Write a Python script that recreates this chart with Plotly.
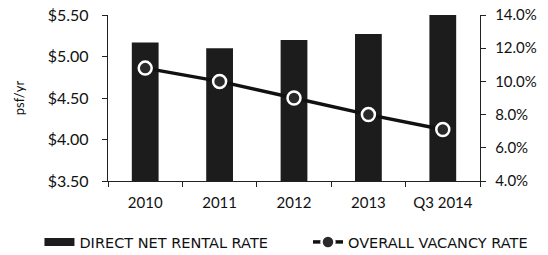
import plotly.graph_objects as go

categories = ["2010", "2011", "2012", "2013", "Q3 2014"]
rental_rate = [5.17, 5.10, 5.20, 5.27, 5.50]
vacancy_rate = [10.8, 10.0, 9.0, 8.0, 7.1]
left_ticks = [3.5, 4.0, 4.5, 5.0, 5.5]
left_labels = ["$3.50", "$4.00", "$4.50", "$5.00", "$5.50"]
right_ticks = [4, 6, 8, 10, 12, 14]
right_labels = ["4.0%", "6.0%", "8.0%", "10.0%", "12.0%", "14.0%"]

font_family = "Lato, Open Sans, sans-serif"
legend_family = "DejaVu Sans, sans-serif"

fig = go.Figure()
fig.add_trace(go.Bar(
    x=categories, y=rental_rate, name="DIRECT NET RENTAL RATE",
    marker=dict(color="#1c1c1c", line=dict(width=0)), width=0.36,
    showlegend=False,
))
# legend-only entry with a wide block symbol for the bar series
fig.add_trace(go.Scatter(
    x=[None], y=[None], name="DIRECT NET RENTAL RATE", mode="lines",
    line=dict(color="#1c1c1c", width=8), showlegend=True, legend="legend",
))
fig.add_trace(go.Scatter(
    x=categories, y=vacancy_rate, name="OVERALL VACANCY RATE", yaxis="y2",
    mode="lines+markers",
    line=dict(color="#111111", width=3.5),
    marker=dict(size=13, color="#2a2a2a", line=dict(color="white", width=2.5)),
    legend="legend2",
))

legend_common = dict(orientation="h", xref="container", yref="container",
                     yanchor="middle", font=dict(size=14.5, family=legend_family),
                     bgcolor="rgba(0,0,0,0)")

fig.update_layout(
    width=548, height=255,
    margin=dict(l=108, r=68, t=15, b=74, autoexpand=False),
    paper_bgcolor="white", plot_bgcolor="white",
    font=dict(family=font_family, size=13, color="#111"),
    showlegend=True,
    legend=dict(x=0.072, xanchor="left", y=0.051, **legend_common),
    legend2=dict(x=0.562, xanchor="left", y=0.051, **legend_common),
    xaxis=dict(
        showline=True, linecolor="#222", linewidth=1.3,
        ticks="outside", tickson="boundaries", ticklen=5, tickcolor="#222",
        tickfont=dict(size=15), showgrid=False, ticklabelstandoff=8,
    ),
    yaxis=dict(
        range=[3.5, 5.5], tickvals=left_ticks, ticktext=left_labels,
        showline=True, linecolor="#222", linewidth=1.3,
        ticks="outside", ticklen=5, tickcolor="#222", showgrid=False,
        tickfont=dict(size=16), ticklabelstandoff=10,
        title=dict(text="psf/yr", font=dict(size=13), standoff=20),
        zeroline=False,
    ),
    yaxis2=dict(
        range=[4, 14], tickvals=right_ticks, ticktext=right_labels,
        overlaying="y", side="right",
        showline=True, linecolor="#222", linewidth=1.3,
        ticks="outside", ticklen=5, tickcolor="#222", showgrid=False,
        tickfont=dict(size=15), ticklabelstandoff=6, zeroline=False,
    ),
)

fig.write_html("out.html", config={"displayModeBar": False},
               post_script="document.body.style.margin='0px';")
